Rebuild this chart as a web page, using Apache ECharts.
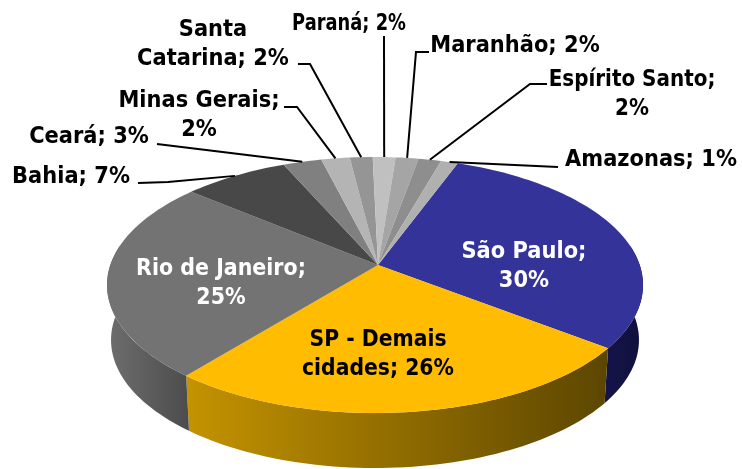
<!DOCTYPE html>
<html>
<head>
<meta charset="utf-8">
<title>Participação por estado</title>
<script src="https://cdn.jsdelivr.net/npm/echarts@6/dist/echarts.min.js"></script>
<style>
html, body { margin: 0; padding: 0; background: #fff; }
#main { width: 742px; height: 469px; }
</style>
</head>
<body>
<div id="main"></div>
<script>
// valores, sentido horario a partir de Sao Paulo
const categories = ['São Paulo', 'SP - Demais\ncidades', 'Rio de Janeiro', 'Bahia', 'Ceará', 'Minas Gerais', 'Santa\nCatarina', 'Paraná', 'Maranhão', 'Espírito Santo', 'Amazonas']
const shares = [29.5, 25.5, 25.4, 7.4, 2.7, 2.0, 1.6, 1.6, 1.6, 1.6, 1.2]
const topColors = ['#333399', '#FFBC00', '#737373', '#484848', '#808080', '#B4B4B4', '#959595', '#C0C0C0', '#A5A5A5', '#8E8E8E', '#B0B0B0']
const sideLeft = ['#14144A', '#C49300', '#6E6E6E', '#333333', '#555555', '#777777', '#666666', '#888888', '#777777', '#666666', '#777777']
const sideRight = ['#10103C', '#5C4600', '#4C4C4C', '#333333', '#555555', '#777777', '#666666', '#888888', '#777777', '#666666', '#777777']

// centro do rotulo e cotovelo da linha guia; null = rotulo dentro da fatia
const labelPos = [[524, 266], [378, 354], [221, 283], [71, 177], [89, 137], [199, 115], [213, 44], [349, 24], [515, 46], [632, 94], [651, 160]]
const labelColor = ['#fff', '#000', '#fff', '#000', '#000', '#000', '#000', '#000', '#000', '#000', '#000']
const labelStretch = [1, 0.97, 0.98, 1, 1, 1, 1, 0.85, 1, 0.95, 1]
const wrapAfterName = [true, false, true, false, false, true, false, false, false, true, false]
const leaderElbow = [null, null, null, [168, 182, 138, 183], [157, 144], [297, 107, 284, 107], [310, 64, 298, 64], [384, 36], [416, 52, 429, 52], [530, 84, 547, 84], [558, 167]]

const disc = { cx: 375, cy: 285, rx: 268, ry: 128, persp: -0.156, depth: 55, shrink: 0.985 }
const startDeg = 21
const total = shares.reduce((a, b) => a + b, 0)

// angulo no disco -> tela (projecao que mantem a elipse e desloca o centro para cima)
function project(deg, depth) {
    const t = deg * Math.PI / 180
    const u = Math.sin(t), v = -Math.cos(t), a = disc.persp
    const d = 1 + a * v
    const s = depth ? disc.shrink : 1
    return [
        disc.cx + disc.rx * s * u * Math.sqrt(1 - a * a) / d,
        disc.cy + disc.ry * (v + a) / d + (depth || 0)
    ]
}

function apex() {
    return [disc.cx + 3, disc.cy + disc.ry * disc.persp]
}

function rim(from, to, depth) {
    const pts = []
    const n = Math.max(2, Math.ceil((to - from) / 1.5))
    for (let i = 0; i <= n; i++) pts.push(project(from + (to - from) * i / n, depth))
    return pts
}

const sliceStart = []
let acc = startDeg
shares.forEach(v => {
    sliceStart.push(acc)
    acc += v / total * 360
})

function renderSlice(params, api) {
    const i = api.value(0)
    const from = sliceStart[i]
    const to = from + api.value(1) / total * 360
    const children = []
    const tangentA = 81, tangentB = 279

    // parede lateral: so a parte voltada para a frente
    const sFrom = Math.max(from, tangentA), sTo = Math.min(to, tangentB)
    if (sTo > sFrom) {
        const top = rim(sFrom, sTo, 0)
        const bottom = rim(sFrom, sTo, disc.depth).reverse()
        children.push({
            type: 'polygon',
            shape: { points: top.concat(bottom) },
            style: {
                fill: new echarts.graphic.LinearGradient(0, 0, 1, 0, [
                    { offset: 0, color: sideLeft[i] },
                    { offset: 1, color: sideRight[i] }
                ])
            },
            z2: 1
        })
    }

    const c = apex()
    children.push({
        type: 'polygon',
        shape: { points: [c].concat(rim(from, to, 0)) },
        style: { fill: topColors[i] },
        z2: 2
    })

    // linha guia
    if (leaderElbow[i]) {
        const p = project((from + to) / 2, 0)
        const pts = [p]
        const e = leaderElbow[i]
        for (let k = 0; k < e.length; k += 2) pts.push([e[k], e[k + 1]])
        children.push({
            type: 'polyline',
            shape: { points: pts },
            style: { stroke: '#000', lineWidth: 2, fill: null },
            z2: 3
        })
    }

    const name = categories[i]
    const text = name + ';' + (wrapAfterName[i] ? '\n' : ' ') + Math.round(api.value(1)) + '%'
    children.push({
        type: 'text',
        x: labelPos[i][0],
        y: labelPos[i][1],
        scaleX: labelStretch[i],
        scaleY: 1.12,
        style: {
            text: text,
            fill: labelColor[i],
            font: 'bold 21px "DejaVu Sans"',
            align: 'center',
            verticalAlign: 'middle',
            lineHeight: 26
        },
        z2: 4
    })
    return { type: 'group', children: children }
}

const chart = echarts.init(document.getElementById('main'), null, { renderer: 'canvas' })
chart.setOption({
    animation: false,
    backgroundColor: '#fff',
    series: [{
        type: 'custom',
        coordinateSystem: 'none',
        renderItem: renderSlice,
        data: shares.map((v, i) => [i, v])
    }]
})
</script>
</body>
</html>
